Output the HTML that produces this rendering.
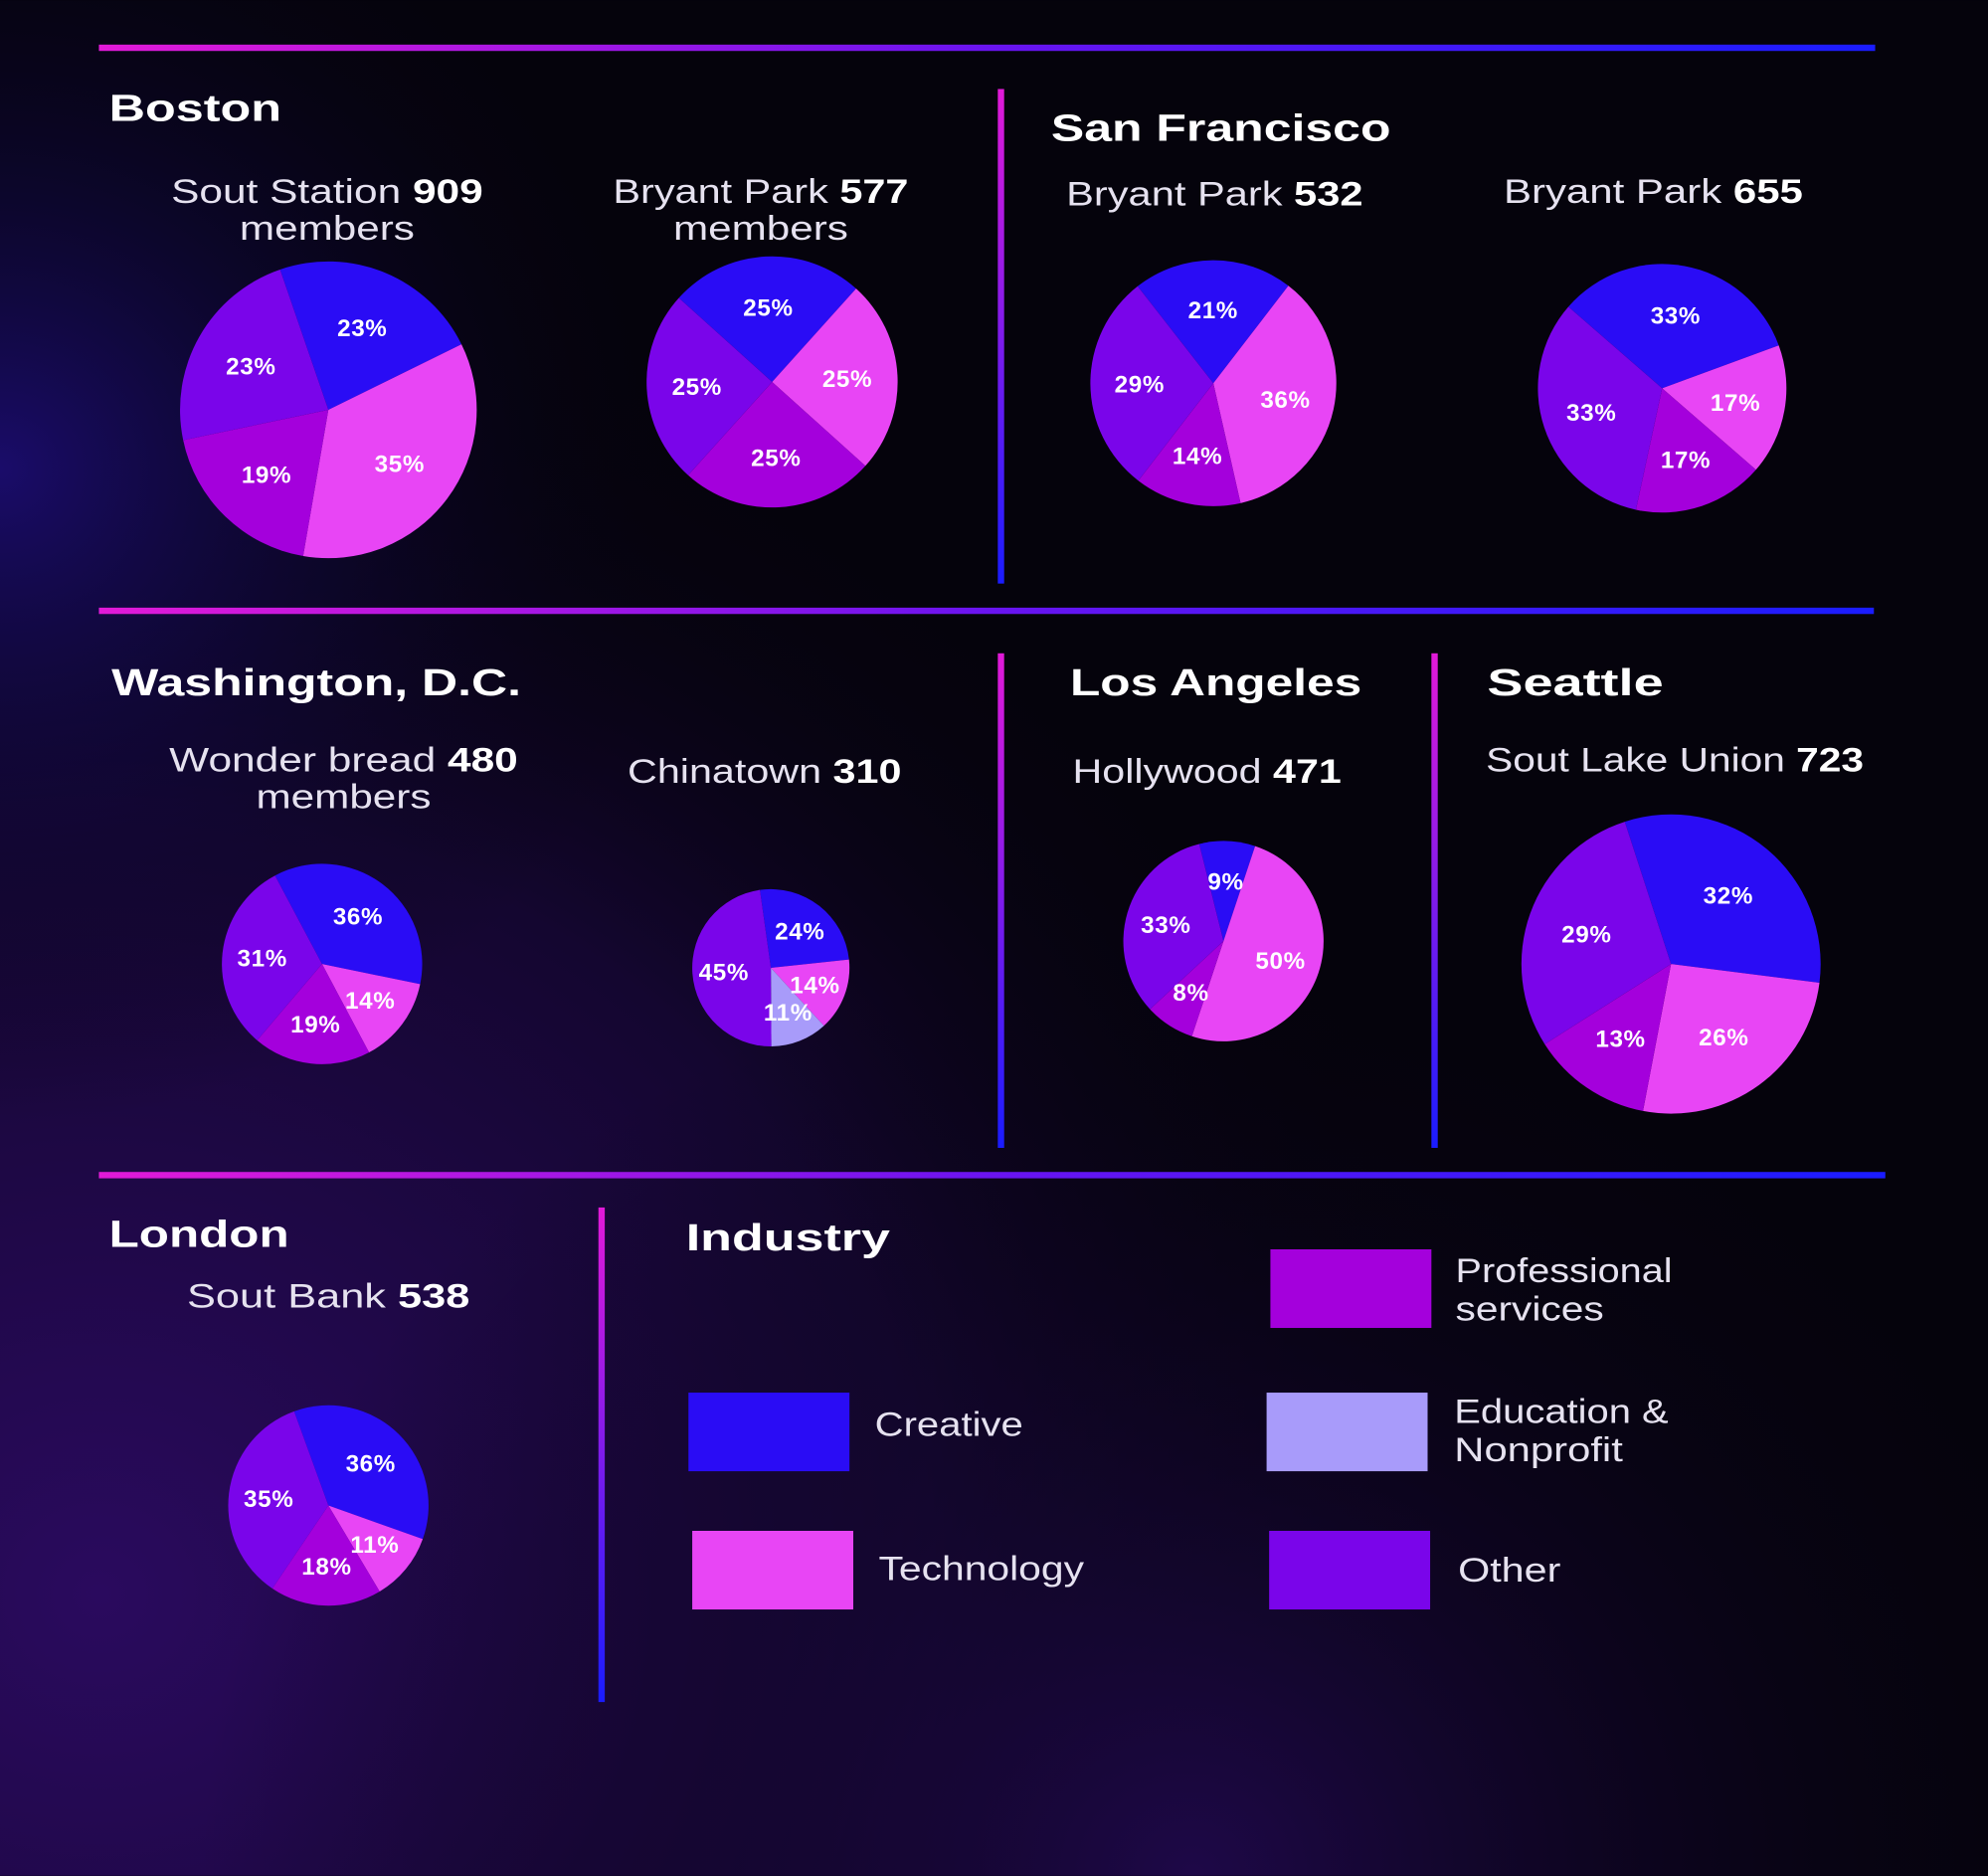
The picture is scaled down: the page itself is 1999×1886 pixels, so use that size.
<!DOCTYPE html>
<html><head><meta charset="utf-8">
<style>
html,body{margin:0;padding:0;background:#05030c;}
svg{display:block;}
.t{font-family:"Liberation Sans",sans-serif;font-weight:bold;fill:#fff;}
.s{font-family:"Liberation Sans",sans-serif;fill:#e6e2f0;font-weight:normal;}
.s tspan.b{font-weight:bold;fill:#fff;}
.pl{font-family:"Liberation Sans",sans-serif;font-weight:bold;fill:#fff;font-size:19px;letter-spacing:0.5px;}
</style></head>
<body>
<svg id="root" width="1999" height="1886" viewBox="0 0 1568 1479" xmlns="http://www.w3.org/2000/svg">
<defs>
<radialGradient id="bg1" cx="0.05" cy="0.85" r="0.7">
<stop offset="0" stop-color="#2a0a5e"/><stop offset="0.6" stop-color="#140630"/><stop offset="1" stop-color="#05030c" stop-opacity="0"/>
</radialGradient>
<radialGradient id="bg2" cx="0" cy="0.25" r="0.35">
<stop offset="0" stop-color="#1a0c6a"/><stop offset="1" stop-color="#05030c" stop-opacity="0"/>
</radialGradient>
<radialGradient id="bg3" cx="0.6" cy="1" r="0.5">
<stop offset="0" stop-color="#1e0848"/><stop offset="1" stop-color="#05030c" stop-opacity="0"/>
</radialGradient>
<linearGradient id="hl" x1="0" x2="1" y1="0" y2="0"><stop offset="0" stop-color="#e21ad8"/><stop offset="0.5" stop-color="#6a14f0"/><stop offset="1" stop-color="#1a1cff"/></linearGradient>
<linearGradient id="vl" x1="0" x2="0" y1="0" y2="1"><stop offset="0" stop-color="#e21ad8"/><stop offset="1" stop-color="#1a1cff"/></linearGradient>
</defs>
<rect width="1568" height="1479" fill="#05030c"/>
<rect width="1568" height="1479" fill="url(#bg1)"/>
<rect width="1568" height="1479" fill="url(#bg2)"/>
<rect width="1568" height="1479" fill="url(#bg3)"/>

<rect x="78" y="35" width="1401" height="5" fill="url(#hl)"/>
<rect x="78" y="479" width="1400" height="5" fill="url(#hl)"/>
<rect x="78" y="924" width="1409" height="5" fill="url(#hl)"/>
<rect x="787" y="70" width="5" height="390" fill="url(#vl)"/>
<rect x="787" y="515" width="5" height="390" fill="url(#vl)"/>
<rect x="1129" y="515" width="5" height="390" fill="url(#vl)"/>
<rect x="472" y="952" width="5" height="390" fill="url(#vl)"/>

<g lengthAdjust="spacingAndGlyphs">
<text class="t" x="86" y="95" font-size="30" textLength="136" lengthAdjust="spacingAndGlyphs">Boston</text>
<text class="t" x="829" y="111" font-size="30" textLength="268" lengthAdjust="spacingAndGlyphs">San Francisco</text>
<text class="t" x="88" y="548" font-size="30" textLength="323" lengthAdjust="spacingAndGlyphs">Washington, D.C.</text>
<text class="t" x="844" y="548" font-size="30" textLength="230" lengthAdjust="spacingAndGlyphs">Los Angeles</text>
<text class="t" x="1173" y="548" font-size="30" textLength="139" lengthAdjust="spacingAndGlyphs">Seattle</text>
<text class="t" x="86" y="983" font-size="30" textLength="142" lengthAdjust="spacingAndGlyphs">London</text>
<text class="t" x="541" y="986" font-size="30" textLength="161" lengthAdjust="spacingAndGlyphs">Industry</text>
</g>

<g font-size="27" text-anchor="middle">
<text class="s" x="258" y="160" textLength="246" lengthAdjust="spacingAndGlyphs">Sout Station <tspan class="b">909</tspan></text>
<text class="s" x="258" y="189" textLength="138" lengthAdjust="spacingAndGlyphs">members</text>
<text class="s" x="600" y="160" textLength="233" lengthAdjust="spacingAndGlyphs">Bryant Park <tspan class="b">577</tspan></text>
<text class="s" x="600" y="189" textLength="138" lengthAdjust="spacingAndGlyphs">members</text>
<text class="s" x="958" y="162" textLength="234" lengthAdjust="spacingAndGlyphs">Bryant Park <tspan class="b">532</tspan></text>
<text class="s" x="1304" y="160" textLength="236" lengthAdjust="spacingAndGlyphs">Bryant Park <tspan class="b">655</tspan></text>
<text class="s" x="271" y="608" textLength="275" lengthAdjust="spacingAndGlyphs">Wonder bread <tspan class="b">480</tspan></text>
<text class="s" x="271" y="637" textLength="138" lengthAdjust="spacingAndGlyphs">members</text>
<text class="s" x="603" y="617" textLength="216" lengthAdjust="spacingAndGlyphs">Chinatown <tspan class="b">310</tspan></text>
<text class="s" x="952" y="617" textLength="212" lengthAdjust="spacingAndGlyphs">Hollywood <tspan class="b">471</tspan></text>
<text class="s" x="1321" y="608" textLength="298" lengthAdjust="spacingAndGlyphs">Sout Lake Union <tspan class="b">723</tspan></text>
<text class="s" x="259" y="1031" textLength="223" lengthAdjust="spacingAndGlyphs">Sout Bank  <tspan class="b">538</tspan></text>
</g>

<g>
<rect x="543" y="1098" width="127" height="62" fill="#2a0cf5"/>
<text class="s" x="690" y="1132" font-size="27" textLength="117" lengthAdjust="spacingAndGlyphs">Creative</text>
<rect x="546" y="1207" width="127" height="62" fill="#e845f5"/>
<text class="s" x="693" y="1246" font-size="27" textLength="162" lengthAdjust="spacingAndGlyphs">Technology</text>
<rect x="1002" y="985" width="127" height="62" fill="#a400dc"/>
<text class="s" x="1148" y="1011" font-size="27" textLength="171" lengthAdjust="spacingAndGlyphs">Professional</text>
<text class="s" x="1148" y="1041" font-size="27" textLength="117" lengthAdjust="spacingAndGlyphs">services</text>
<rect x="999" y="1098" width="127" height="62" fill="#a89bfa"/>
<text class="s" x="1147" y="1122" font-size="27" textLength="169" lengthAdjust="spacingAndGlyphs">Education &amp;</text>
<text class="s" x="1147" y="1152" font-size="27" textLength="133" lengthAdjust="spacingAndGlyphs">Nonprofit</text>
<rect x="1001" y="1207" width="127" height="62" fill="#7a05ea"/>
<text class="s" x="1150" y="1247" font-size="27" textLength="81" lengthAdjust="spacingAndGlyphs">Other</text>
</g>
<g id="pies"></g>
</svg>
<script>
// Category order: creative, technology, professional, education, other
const categories = ["Creative","Technology","Professional services","Education & Nonprofit","Other"];
const pieNames = ["south-station","bryant-park-577","bryant-park-532","bryant-park-655","wonder-bread","chinatown","hollywood","south-lake-union","south-bank"];
const creativeValues     = [23,25,21,33,36,24,9,32,36];
const technologyValues   = [35,25,36,17,14,14,50,26,11];
const professionalValues = [19,25,14,17,19,0,8,13,18];
const educationValues    = [0,0,0,0,0,11,0,0,0];
const otherValues        = [23,25,29,33,31,45,33,29,35];
const colors = ["#2a0cf5","#e845f5","#a400dc","#a89bfa","#7a05ea"];
const layout = [
 {cx:259,cy:323,r:117,start:-19},
 {cx:609,cy:301,r:99,start:-48},
 {cx:957,cy:302,r:97,start:-38},
 {cx:1311,cy:306,r:98,start:-49},
 {cx:254,cy:760,r:79,start:-28},
 {cx:608,cy:763,r:62,start:-8},
 {cx:965,cy:742,r:79,start:-14},
 {cx:1318,cy:760,r:118,start:-18},
 {cx:259,cy:1187,r:79,start:-20}
];
const NS="http://www.w3.org/2000/svg";
const g=document.getElementById('pies');
function pt(cx,cy,r,a){const t=a*Math.PI/180;return [cx+r*Math.sin(t),cy-r*Math.cos(t)];}
pieNames.forEach((name,i)=>{
  const L=layout[i];
  const vals=[creativeValues[i],technologyValues[i],professionalValues[i],educationValues[i],otherValues[i]];
  const total=vals.reduce((a,b)=>a+b,0);
  const pg=document.createElementNS(NS,'g');
  
  
  g.appendChild(pg);
  let a=L.start;
  const labels=[];
  vals.forEach((v,k)=>{
    if(v<=0)return;
    const sweep=v/total*360;
    const p1=pt(L.cx,L.cy,L.r,a),p2=pt(L.cx,L.cy,L.r,a+sweep);
    const path=document.createElementNS(NS,'path');
    path.setAttribute('d',`M${L.cx},${L.cy}L${p1[0]},${p1[1]}A${L.r},${L.r} 0 ${sweep>180?1:0} 1 ${p2[0]},${p2[1]}Z`);
    path.setAttribute('fill',colors[k]);
    
    
    pg.appendChild(path);
    const m=pt(L.cx,L.cy,L.r*0.6,a+sweep/2);
    labels.push([m,v,k]);
    a+=sweep;
  });
  labels.forEach(([m,v,k])=>{
    const t=document.createElementNS(NS,'text');
    t.setAttribute('x',m[0]);t.setAttribute('y',m[1]+7);
    t.setAttribute('text-anchor','middle');
    t.setAttribute('class','pl');
    
    
    t.textContent=v+'%';
    pg.appendChild(t);
  });
});
</script>
</body></html>
